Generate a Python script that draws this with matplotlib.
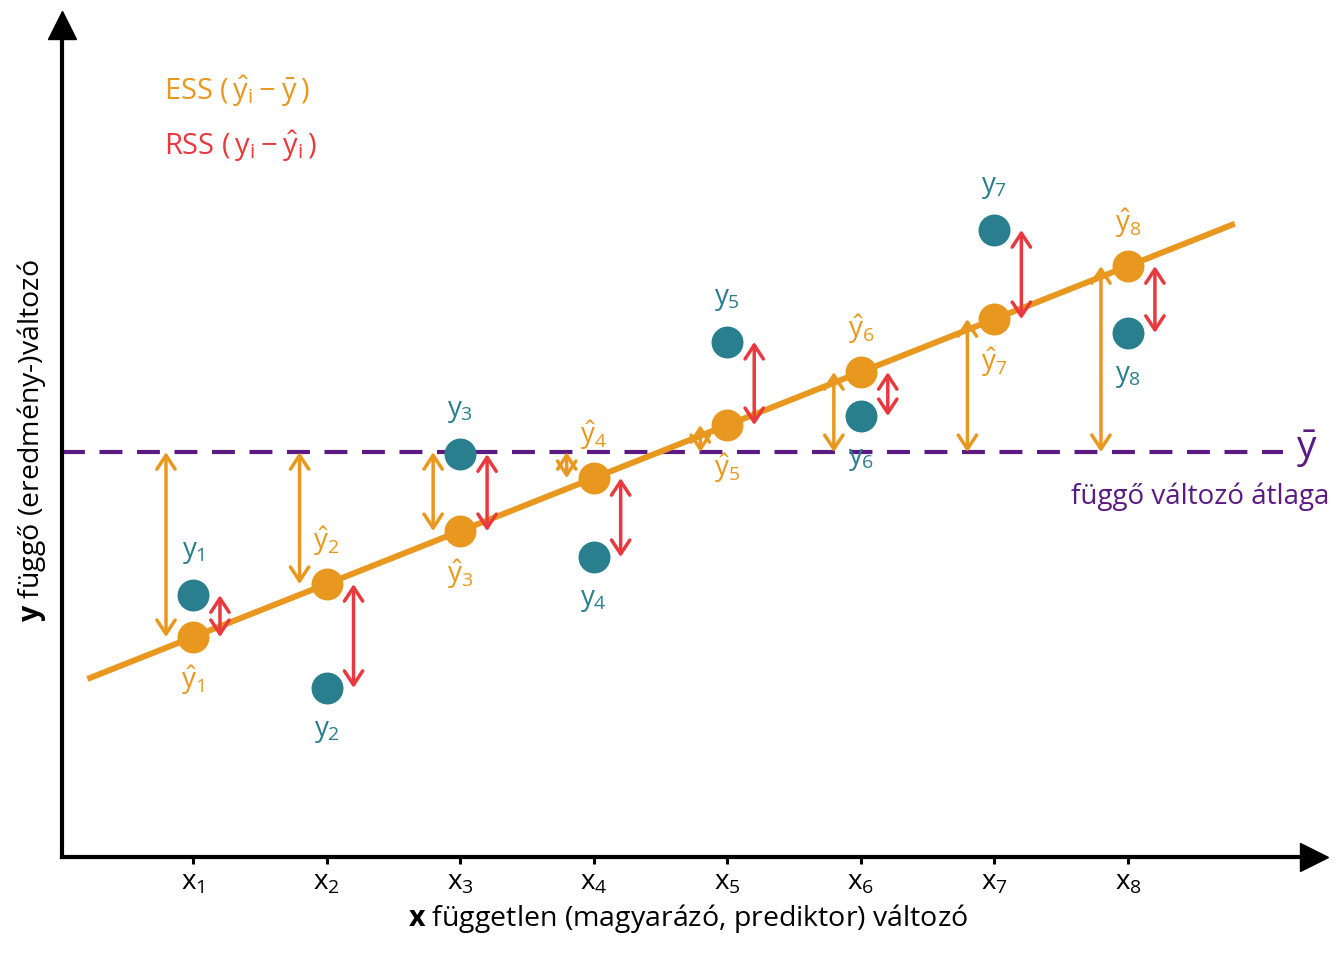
import numpy as np
import matplotlib
matplotlib.use("Agg")
import matplotlib.pyplot as plt

plt.rcParams['font.family'] = ['Open Sans', 'DejaVu Sans']
plt.rcParams['mathtext.fontset'] = 'custom'
plt.rcParams['mathtext.rm'] = 'Open Sans'
plt.rcParams['mathtext.it'] = 'Open Sans'
plt.rcParams['mathtext.bf'] = 'Open Sans:bold'

orange = "#e9981f"
teal = "#2a7f8f"
red = "#e8393f"
purple = "#5b1a82"

# data
x = np.arange(1, 9)
y_obs = [4.94, 3.19, 7.60, 5.66, 9.72, 8.32, 11.83, 9.89]
y_fit = [4.15, 5.15, 6.15, 7.15, 8.15, 9.15, 10.15, 11.15]
y_mean = 7.64
line_x = [0.21, 8.80]
line_y = [3.36, 11.95]
tick_labels = ["$x_%d$" % i for i in x]

fig = plt.figure(figsize=(13.44, 9.6), dpi=100)
ax = fig.add_axes([62/1344, 103/960, 1252/1344, 832/960])
ax.set_xlim(0.0193, 9.393)
ax.set_ylim(0, 15.70)

for s in ["top", "right"]:
    ax.spines[s].set_visible(False)
for s in ["left", "bottom"]:
    ax.spines[s].set_linewidth(3)
ax.plot(1, 0, ">", color="black", ms=20, transform=ax.transAxes, clip_on=False)
ax.plot(0, 1, "^", color="black", ms=20, transform=ax.transAxes, clip_on=False)

ax.set_xticks(x, tick_labels, fontsize=20)
ax.tick_params(axis="x", length=5, width=2.2, pad=3)
ax.set_yticks([])

ax.set_xlabel(r"$\mathbf{x}$ független (magyarázó, prediktor) változó", fontsize=20.5, labelpad=4)
ax.set_ylabel(r"$\mathbf{y}$ függő (eredmény-)változó", fontsize=20.5, labelpad=10)

# mean line
ax.plot([0.0193, 9.16], [y_mean, y_mean], color=purple, lw=3, dashes=(5.5, 3.5))
ax.text(9.34, y_mean + 0.05, r"$\bar{y}$", color=purple, fontsize=28, ha="center", va="center")
ax.text(7.57, y_mean - 0.85, "függő változó átlaga", color=purple, fontsize=20, ha="left", va="center",
        clip_on=False)

# regression line
ax.plot(line_x, line_y, color=orange, lw=4.3, solid_capstyle="butt", zorder=2)

dx = 0.202
arrow_kw = dict(arrowstyle="<->,head_length=0.5,head_width=0.33", lw=2.5, shrinkA=0, shrinkB=0,
                mutation_scale=20)
for xi, yo, yf in zip(x, y_obs, y_fit):
    ax.annotate("", xy=(xi - dx, y_mean), xytext=(xi - dx, yf),
                arrowprops=dict(color=orange, **arrow_kw), zorder=3)
    ax.annotate("", xy=(xi + dx, yo), xytext=(xi + dx, yf),
                arrowprops=dict(color=red, **arrow_kw), zorder=3)

ax.plot(x, y_fit, "o", color=orange, ms=23, mew=0, zorder=4)
ax.plot(x, y_obs, "o", color=teal, ms=23, mew=0, zorder=4)

for xi, yo, yf in zip(x, y_obs, y_fit):
    up = 1 if yo > yf else -1
    ax.annotate("$y_%d$" % xi, (xi, yo), xytext=(0, 43 * up), textcoords="offset pixels",
                color=teal, fontsize=20, ha="center", va="center")
    ax.annotate(r"$\hat{y}_%d$" % xi, (xi, yf), xytext=(0, -43 * up), textcoords="offset pixels",
                color=orange, fontsize=20, ha="center", va="center")

# legend texts
ax.text(0.78, 14.45, r"ESS $(\,\hat{y}_\mathrm{i} - \bar{y}\,)$", color=orange, fontsize=21, va="center")
ax.text(0.78, 13.40, r"RSS $(\,y_\mathrm{i} - \hat{y}_\mathrm{i}\,)$", color=red, fontsize=21, va="center")

fig.savefig("out.png", dpi=100)
